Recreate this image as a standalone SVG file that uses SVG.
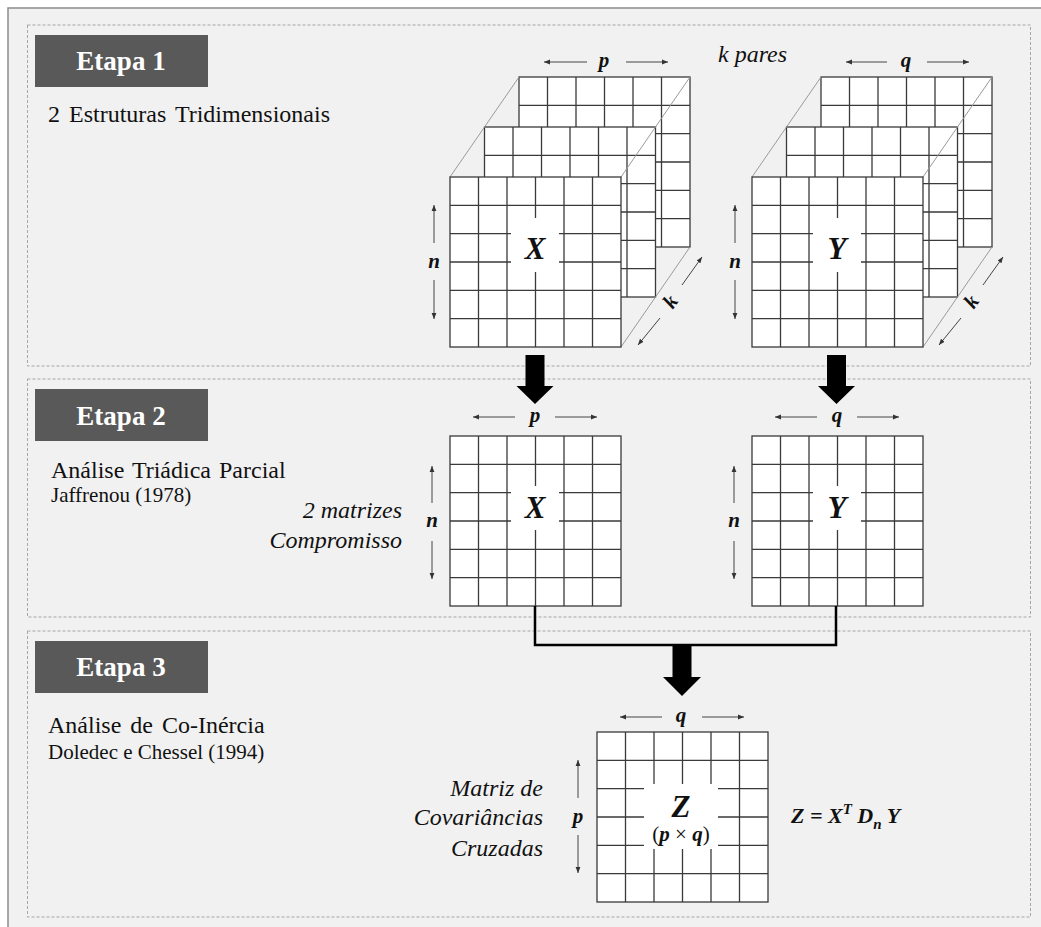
<svg xmlns="http://www.w3.org/2000/svg" width="1041" height="927" viewBox="0 0 1041 927">
<style>
.frame{fill:#f1f1f1;stroke:#8c8c8c;stroke-width:1.5}
.box{fill:none;stroke:#a6a6a6;stroke-width:1;stroke-dasharray:3 2}
.tag{fill:#595959}
.etapa{font-family:"Liberation Serif","Times New Roman",serif;font-weight:bold;font-size:27px;fill:#fff;text-anchor:middle}
.t{font-family:"Liberation Serif","Times New Roman",serif;fill:#111}
.it{font-family:"Liberation Serif","Times New Roman",serif;font-style:italic;fill:#111;font-size:24px}
.r{text-anchor:end}
.m{font-family:"Liberation Serif","Times New Roman",serif;font-weight:bold;font-style:italic;fill:#111;font-size:21px;text-anchor:middle}
.big{font-size:31px}
.fx{font-family:"Liberation Serif","Times New Roman",serif;font-weight:bold;font-style:italic;fill:#111;font-size:22px;text-anchor:start}
.dim{stroke:#444;stroke-width:1;fill:none;marker-end:url(#ah)}
.diag{stroke:#9a9a9a;stroke-width:1;fill:none}
.gap{fill:#fff}
.blk{fill:#000}
.conn{stroke:#000;stroke-width:2.5;fill:none}
</style>
<defs>
<marker id="ah" viewBox="0 0 10 10" refX="10" refY="5" markerWidth="6" markerHeight="6" markerUnits="userSpaceOnUse" orient="auto"><path d="M0 1L10 5L0 9z" fill="#333"/></marker>
<g id="grid">
<rect x="0" y="0" width="171" height="170" fill="#fff" stroke="#3a3a3a" stroke-width="1.3"/>
<path d="M28.5 0V170M57 0V170M85.5 0V170M114 0V170M142.5 0V170M0 28.33H171M0 56.67H171M0 85H171M0 113.33H171M0 141.67H171" stroke="#3a3a3a" stroke-width="1.3" fill="none"/>
</g>
</defs>

<rect class="frame" x="8" y="8" width="1045" height="930"/>

<g id="stage1">
<rect class="box" x="27.5" y="25" width="1003" height="341"/>
<rect class="tag" x="35" y="35" width="173" height="52"/>
<text class="etapa" x="121" y="70">Etapa 1</text>
<text class="t" x="48" y="122" font-size="24" word-spacing="3">2 Estruturas Tridimensionais</text>
<text class="it" x="718" y="62">k pares</text>
</g>

<g id="cubeX">
<use href="#grid" x="519" y="77"/>
<use href="#grid" x="484.5" y="127"/>
<path class="diag" d="M450 177L519 77M621 177L690 77M621 347L690 247"/>
<use href="#grid" x="450" y="177"/>
<rect class="gap" x="511" y="218" width="48" height="54"/>
<text class="m big" x="535" y="259">X</text>
<path class="dim" d="M587 62H544"/><path class="dim" d="M626 62H668"/>
<text class="m" x="604" y="67">p</text>
<path class="dim" d="M434 243V205"/><path class="dim" d="M434 280V319"/>
<text class="m" x="434" y="268">n</text>
<path class="dim" d="M682 285L702 257"/><path class="dim" d="M660 318L638 345"/>
<text class="m" transform="translate(671 302) rotate(-54)" x="0" y="6">k</text>
</g>

<g id="cubeY">
<use href="#grid" x="821" y="77"/>
<use href="#grid" x="786.5" y="127"/>
<path class="diag" d="M752 177L821 77M923 177L992 77M923 347L992 247"/>
<use href="#grid" x="752" y="177"/>
<rect class="gap" x="813" y="218" width="48" height="54"/>
<text class="m big" x="837" y="259">Y</text>
<path class="dim" d="M887 62H846"/><path class="dim" d="M927 62H969"/>
<text class="m" x="906" y="67">q</text>
<path class="dim" d="M735 243V205"/><path class="dim" d="M735 280V319"/>
<text class="m" x="735" y="268">n</text>
<path class="dim" d="M983 285L1003 257"/><path class="dim" d="M961 318L939 345"/>
<text class="m" transform="translate(972 302) rotate(-54)" x="0" y="6">k</text>
</g>

<g id="stage2">
<rect class="box" x="27.5" y="379" width="1003" height="238"/>
<rect class="tag" x="35" y="389" width="173" height="52"/>
<text class="etapa" x="121" y="425">Etapa 2</text>
<text class="t" x="51" y="478" font-size="24" word-spacing="2">Análise Triádica Parcial</text>
<text class="t" x="51" y="502" font-size="21">Jaffrenou (1978)</text>
<text class="it r" x="402" y="518">2 matrizes</text>
<text class="it r" x="402" y="548">Compromisso</text>
</g>

<g id="matX">
<use href="#grid" x="450" y="436"/>
<rect class="gap" x="511" y="486" width="48" height="44"/>
<text class="m big" x="535" y="518">X</text>
<path class="dim" d="M515 417H473"/><path class="dim" d="M555 417H597"/>
<text class="m" x="535" y="422">p</text>
<path class="dim" d="M432 503V466"/><path class="dim" d="M432 541V579"/>
<text class="m" x="432" y="527">n</text>
</g>

<g id="matY">
<use href="#grid" x="752" y="436"/>
<rect class="gap" x="813" y="486" width="48" height="44"/>
<text class="m big" x="837" y="518">Y</text>
<path class="dim" d="M817 417H775"/><path class="dim" d="M857 417H899"/>
<text class="m" x="837" y="422">q</text>
<path class="dim" d="M734 503V466"/><path class="dim" d="M734 541V579"/>
<text class="m" x="734" y="527">n</text>
</g>

<g id="stage3">
<rect class="box" x="27.5" y="631" width="1003" height="286"/>
<rect class="tag" x="35" y="641" width="173" height="52"/>
<text class="etapa" x="121" y="676">Etapa 3</text>
<text class="t" x="48" y="733" font-size="24" word-spacing="3">Análise de Co-Inércia</text>
<text class="t" x="48" y="759" font-size="21">Doledec e Chessel (1994)</text>
<text class="it r" x="543" y="796">Matriz de</text>
<text class="it r" x="543" y="825">Covariâncias</text>
<text class="it r" x="543" y="856">Cruzadas</text>
</g>

<g id="matZ">
<use href="#grid" x="597" y="732"/>
<rect class="gap" x="644" y="784" width="74" height="65"/>
<text class="m big" x="681" y="817">Z</text>
<text class="m" x="681" y="841"><tspan font-weight="normal" font-style="normal">(</tspan>p<tspan font-weight="normal" font-style="normal"> × </tspan>q<tspan font-weight="normal" font-style="normal">)</tspan></text>
<path class="dim" d="M662 717H620"/><path class="dim" d="M702 717H744"/>
<text class="m" x="681" y="722">q</text>
<path class="dim" d="M578 798V760"/><path class="dim" d="M578 835V873"/>
<text class="m" x="578" y="823">p</text>
<text class="fx" x="791" y="823">Z = X<tspan dy="-9" font-size="15">T</tspan><tspan dy="9"> D</tspan><tspan dy="6" font-size="15">n</tspan><tspan dy="-6"> Y</tspan></text>
</g>

<g id="connectors">
<path class="blk" d="M525.5 355H544.5V386H553.5L535 404L516.5 386H525.5Z"/>
<path class="blk" d="M827 355H846V386H855L836.5 404L818 386H827Z"/>
<path class="conn" d="M535 606V645H836V606"/>
<path class="blk" d="M672.5 645H691.5V677H701L682 696L663 677H672.5Z"/>
</g>
</svg>
